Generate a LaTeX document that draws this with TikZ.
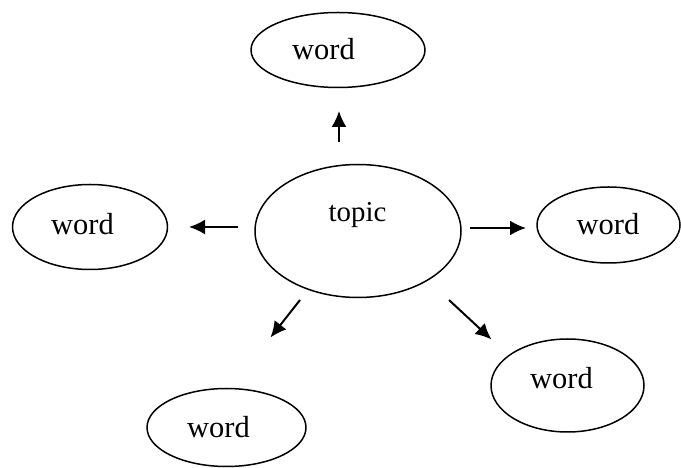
\documentclass[tikz,border=0pt]{standalone}
\usepackage{fontspec}
\setmainfont{Liberation Serif}
\usetikzlibrary{shapes.geometric,arrows.meta}
\tikzset{
  bubble/.style={draw,ellipse,line width=1.5bp,inner sep=0pt},
  wordtext/.style={anchor=base,inner sep=0pt,font=\fontsize{30.6}{36}\selectfont},
  topictext/.style={anchor=base,inner sep=0pt,font=\fontsize{29}{34}\selectfont},
}
\begin{document}
\begin{tikzpicture}[>={Latex[length=16bp,width=15bp]},line join=bevel,]
\useasboundingbox (0bp,0bp) rectangle (681bp,468bp);
%%
\node (node_topic) at (358.0bp,237.0bp) [bubble,minimum width=206bp,minimum height=133bp] {};
  \node (node_top) at (338.0bp,418.0bp) [bubble,minimum width=174bp,minimum height=75bp] {};
  \node (node_left) at (90.0bp,241.0bp) [bubble,minimum width=155bp,minimum height=85bp] {};
  \node (node_right) at (608.5bp,243.0bp) [bubble,minimum width=143bp,minimum height=76bp] {};
  \node (node_se) at (567.5bp,82.5bp) [bubble,minimum width=153bp,minimum height=93bp] {};
  \node (node_sw) at (226.5bp,40.5bp) [bubble,minimum width=159bp,minimum height=78bp] {};
%
\node (text_topic) at (357.5bp,246.0bp) [topictext] {topic};
  \node (text_top) at (323.5bp,408.0bp) [wordtext] {word};
  \node (text_left) at (82.5bp,233.0bp) [wordtext] {word};
  \node (text_right) at (608.0bp,233.0bp) [wordtext] {word};
  \node (text_se) at (561.5bp,79.0bp) [wordtext] {word};
  \node (text_sw) at (218.5bp,31.0bp) [wordtext] {word};
%
\coordinate (up_a) at (339.0bp,326.0bp);
  \coordinate (up_b) at (339.0bp,357.0bp);
  \coordinate (left_a) at (238.0bp,241.0bp);
  \coordinate (left_b) at (189.0bp,241.0bp);
  \coordinate (right_a) at (470.0bp,240.0bp);
  \coordinate (right_b) at (526.0bp,240.0bp);
  \coordinate (sw_a) at (300.0bp,168.0bp);
  \coordinate (sw_b) at (270.5bp,130.5bp);
  \coordinate (se_a) at (449.0bp,168.0bp);
  \coordinate (se_b) at (491.5bp,128.5bp);
  \draw [black,line width=2bp,->] (up_a) -- (up_b);
  \draw [black,line width=2bp,->] (left_a) -- (left_b);
  \draw [black,line width=2bp,->] (right_a) -- (right_b);
  \draw [black,line width=2bp,->] (sw_a) -- (sw_b);
  \draw [black,line width=2bp,->] (se_a) -- (se_b);
%
\end{tikzpicture}
\end{document}
